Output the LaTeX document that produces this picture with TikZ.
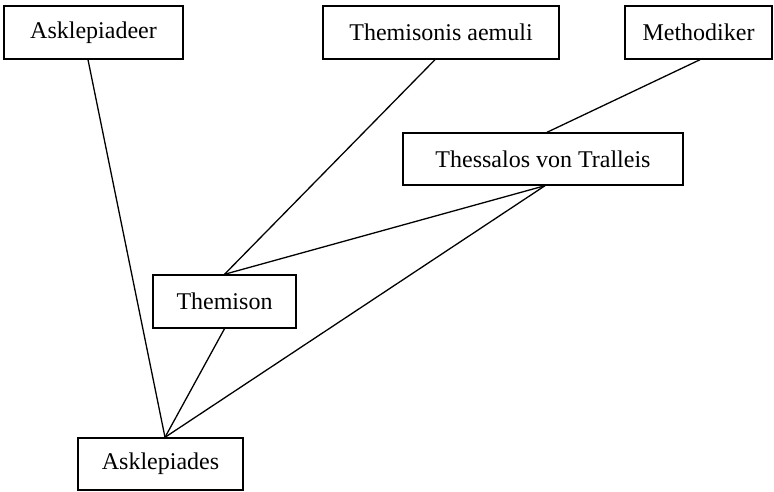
\documentclass[tikz,border=0pt]{standalone}
\usepackage{fontspec}
\setmainfont{Liberation Serif}
\usetikzlibrary{calc}
\begin{document}
\begin{tikzpicture}[x=1pt,y=-1pt,
  box/.style={draw,line width=1.4pt,inner sep=0pt,minimum height=53pt,font=\fontsize{24}{28}\selectfont},
  link/.style={line width=1.3pt}]
\useasboundingbox (0,0) rectangle (774,491);
\node[box,minimum width=179pt] (askd) at (93.5,32.5) {Asklepiadeer};
\node[box,minimum width=236pt] (tham) at (441,32.5) {Themisonis aemuli};
\node[box,minimum width=147pt] (meth) at (698.5,32.5) {Methodiker};
\node[box,minimum width=280pt,minimum height=52pt] (thes) at (543,159) {Thessalos von Tralleis};
\node[box,minimum width=143pt] (them) at (224.5,301.5) {Themison};
\node[box,minimum width=165pt,minimum height=52pt] (askl) at (160.5,464) {Asklepiades};
\draw[link] ($(askd.south)+(-5.5,0)$) -- ($(askl.north)+(4.5,0)$);
\draw[link] ($(tham.south)+(-6,0)$) -- (them.north);
\draw[link] ($(meth.south)+(1.5,0)$) -- ($(thes.north)+(4,0)$);
\draw[link] ($(thes.south)+(2,0)$) -- (them.north);
\draw[link] ($(thes.south)+(2,0)$) -- ($(askl.north)+(4.5,0)$);
\draw[link] (them.south) -- ($(askl.north)+(4.5,0)$);
\end{tikzpicture}
\end{document}
